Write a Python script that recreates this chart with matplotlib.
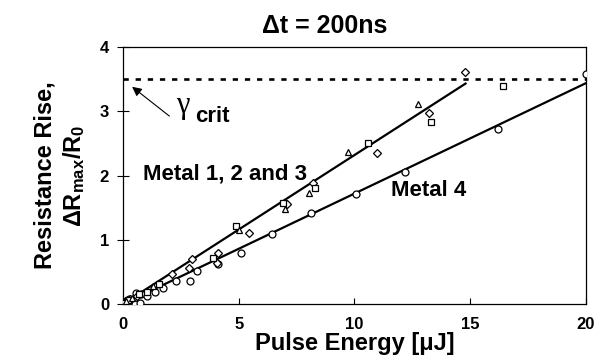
import matplotlib
matplotlib.use('Agg')
import matplotlib.pyplot as plt
import numpy as np

plt.rcParams['font.family'] = ['Liberation Sans', 'DejaVu Sans']
plt.rcParams['font.weight'] = 'bold'
plt.rcParams['mathtext.fontset'] = 'custom'
plt.rcParams['mathtext.rm'] = 'Liberation Sans:bold'
plt.rcParams['mathtext.it'] = 'Liberation Sans:bold'
plt.rcParams['mathtext.bf'] = 'Liberation Sans:bold'

# Metal 4 (circles)
m4_x = [0.05, 0.15, 0.25, 0.35, 0.5, 0.56, 0.73, 0.8, 1.04, 1.38, 1.73, 2.3, 2.9, 3.2, 4.1, 5.1, 6.43, 8.12, 10.06, 12.2, 16.2, 20.0]
m4_y = [0.02, 0.05, 0.08, 0.04, 0.0, 0.17, 0.02, 0.15, 0.13, 0.19, 0.25, 0.36, 0.36, 0.52, 0.63, 0.80, 1.09, 1.41, 1.72, 2.06, 2.72, 3.58]

# Metal 1, 2 and 3 (diamonds, squares, triangles)
m1_x = [0.1, 0.3, 0.6, 2.1, 3.0, 2.85, 4.1, 4.05, 5.45, 7.1, 8.2, 10.97, 13.2, 14.77]
m1_y = [0.03, 0.08, 0.13, 0.47, 0.70, 0.56, 0.80, 0.64, 1.11, 1.56, 1.89, 2.35, 2.98, 3.62]
m2_x = [0.05, 0.2, 0.7, 1.04, 1.55, 3.9, 4.9, 6.9, 8.3, 10.6, 13.3, 16.4]
m2_y = [0.02, 0.06, 0.16, 0.19, 0.31, 0.72, 1.22, 1.58, 1.80, 2.50, 2.84, 3.39]
m3_x = [0.15, 0.4, 1.3, 5.0, 7.0, 8.05, 9.72, 12.75]
m3_y = [0.04, 0.10, 0.28, 1.16, 1.48, 1.73, 2.36, 3.12]

# linear fits
slope_m123, xmax_m123 = 0.232, 14.8
slope_m4, xmax_m4 = 0.172, 20.0
gamma_crit = 3.5

fig = plt.figure(figsize=(6.04, 3.63), dpi=100)
ax = fig.add_axes([0.2036, 0.1625, 0.7665, 0.7075])

mk = dict(linestyle='none', markerfacecolor='white', markeredgecolor='black',
          markeredgewidth=0.9, zorder=3)
ax.plot(m4_x, m4_y, marker='o', markersize=5, **mk)
ax.plot(m1_x, m1_y, marker='D', markersize=3.8, **mk)
ax.plot(m2_x, m2_y, marker='s', markersize=4.8, **mk)
ax.plot(m3_x, m3_y, marker='^', markersize=4.8, **mk)

xf = np.array([0, xmax_m123])
ax.plot(xf, slope_m123 * xf, color='black', lw=1.6, zorder=2)
xf = np.array([0, xmax_m4])
ax.plot(xf, slope_m4 * xf, color='black', lw=1.6, zorder=2)

ax.axhline(gamma_crit, color='black', lw=1.9, linestyle=(0, (2.0, 2.6)), zorder=2)

ax.set_xlim(0, 20)
ax.set_ylim(0, 4)
ax.set_xticks([0, 5, 10, 15, 20])
ax.set_yticks([0, 1, 2, 3, 4])
ax.tick_params(axis='y', direction='inout', length=8, width=0.8, labelsize=12, pad=6)
ax.tick_params(axis='x', direction='in', length=4, width=0.8, labelsize=12, pad=9)
for lbl in ax.get_xticklabels() + ax.get_yticklabels():
    lbl.set_fontweight('bold')
for s in ax.spines.values():
    s.set_linewidth(0.9)

fig.text(0.538, 0.928, '\u0394t = 200ns', fontsize=18, fontweight='bold',
         ha='center', va='center')
ax.set_xlabel('Pulse Energy [\u03bcJ]', fontsize=17, fontweight='bold', labelpad=0)
ax.set_ylabel('Resistance Rise,\n$\\Delta$R$_{max}$/R$_0$', fontsize=17,
              fontweight='bold', labelpad=9, linespacing=1.25)

ax.text(0.86, 2.03, 'Metal 1, 2 and 3', fontsize=16, fontweight='bold', va='center')
ax.text(11.6, 1.77, 'Metal 4', fontsize=16, fontweight='bold', va='center')

ax.annotate('', xy=(0.3, 3.41), xytext=(2.1, 2.9),
            arrowprops=dict(arrowstyle='-|>', color='black', lw=0.8,
                            mutation_scale=14))
ax.text(2.3, 3.09, '\u03b3', fontsize=22, fontweight='normal',
        family=['Liberation Serif', 'DejaVu Serif'], va='center')
ax.text(3.1, 2.92, 'crit', fontsize=16, fontweight='bold', va='center')

fig.savefig('out.png', dpi=100)
